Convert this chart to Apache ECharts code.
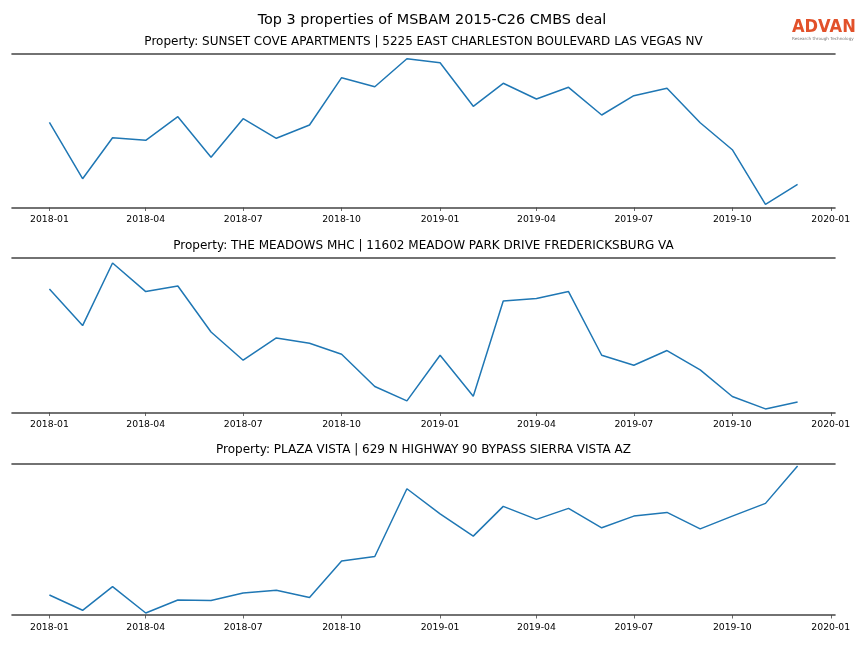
<!DOCTYPE html>
<html>
<head>
<meta charset="utf-8">
<script src="https://cdn.jsdelivr.net/npm/echarts@6/dist/echarts.min.js"></script>
<style>html,body{margin:0;padding:0;background:#fff}#c{width:864px;height:648px}</style>
</head>
<body>
<div id="c"></div>
<script>
// ---- data ----
var months = ['2018-01','2018-02','2018-03','2018-04','2018-05','2018-06','2018-07','2018-08','2018-09','2018-10','2018-11','2018-12',
              '2019-01','2019-02','2019-03','2019-04','2019-05','2019-06','2019-07','2019-08','2019-09','2019-10','2019-11','2019-12'];
var tickLabels = ['2018-01','2018-04','2018-07','2018-10','2019-01','2019-04','2019-07','2019-10','2020-01'];
var mainTitle = 'Top 3 properties of MSBAM 2015-C26 CMBS deal';
var titles = [
  'Property: SUNSET COVE APARTMENTS | 5225 EAST CHARLESTON BOULEVARD LAS VEGAS NV',
  'Property: THE MEADOWS MHC | 11602 MEADOW PARK DRIVE FREDERICKSBURG VA',
  'Property: PLAZA VISTA | 629 N HIGHWAY 90 BYPASS SIERRA VISTA AZ'
];
var sunsetCove = [85.2,28.8,69.8,67.2,90.8,50.2,88.8,69.2,82.5,129.8,120.8,148.8,
                  144.8,101.2,124.2,108.5,120.2,92.5,111.8,119.2,84.8,57.8,3.2,23.2];
var meadows    = [123.6,87,149.6,121,126.6,80.6,52.3,74.6,69.3,58.3,26,11.6,
                  57.3,16.3,111.6,114,121,57.3,47.3,62,42.6,16,3.6,10.6];
var plazaVista = [20,4.7,28.4,2,15,14.4,22,24.7,17.4,54,58.4,126,
                  101,78.7,108.4,95.4,106.4,87,98.7,102.4,86,98.7,111.4,148.7];
var seriesList = [sunsetCove, meadows, plazaVista];

// ---- helpers ----
function ts(s){var p=s.split('-');return Date.UTC(+p[0],+p[1]-1,1);}
function fmt(v){var d=new Date(v);var m=d.getUTCMonth()+1;return d.getUTCFullYear()+'-'+(m<10?'0':'')+m;}
var tickVals = tickLabels.map(ts);
var t0 = ts(months[0]), t1 = ts(months[months.length-1]);
var xMin = t0 - (t1-t0)*0.05, xMax = t1 + (t1-t0)*0.05;

var FONT = '"DejaVu Sans", sans-serif';
var grids = [
  {left:12, right:29, top:54, height:153.5},
  {left:12, right:29, top:258, height:154.5},
  {left:12, right:29, top:464, height:151}
];
var yMaxes = [153.5, 154.6, 150.7];

var xAxes = [], yAxes = [], series = [];
grids.forEach(function(g, i){
  xAxes.push({
    type:'value', gridIndex:i, min:xMin, max:xMax, position:'bottom', scale:true,
    axisLine:{show:true, onZero:false, lineStyle:{color:'#444', width:1.6}},
    axisTick:{show:true, length:3.5, customValues:tickVals, lineStyle:{color:'#444', width:0.8}},
    axisLabel:{show:true, customValues:tickVals, formatter:function(v){return fmt(v);},
               fontFamily:FONT, fontSize:9.3, color:'#000', margin:8, hideOverlap:false,
               showMinLabel:true, showMaxLabel:true},
    splitLine:{show:false}
  });
  xAxes.push({
    type:'value', gridIndex:i, min:xMin, max:xMax, position:'top', scale:true,
    axisLine:{show:true, onZero:false, lineStyle:{color:'#444', width:1.6}},
    axisTick:{show:false}, axisLabel:{show:false}, splitLine:{show:false}
  });
  yAxes.push({type:'value', gridIndex:i, min:0, max:yMaxes[i], show:false, splitLine:{show:false}});
  series.push({
    type:'line', xAxisIndex:i*2, yAxisIndex:i, showSymbol:false, symbol:'none',
    lineStyle:{color:'#1f77b4', width:1.5}, itemStyle:{color:'#1f77b4'},
    data: months.map(function(m, k){return [ts(m), seriesList[i][k]];}),
    animation:false
  });
});

var graphics = [
  {type:'text', style:{x:432, y:20, text:mainTitle, font:'14.4px '+FONT, fill:'#000', textAlign:'center', textVerticalAlign:'middle'}},
  {type:'text', style:{x:423.5, y:42, text:titles[0], font:'12px '+FONT, fill:'#000', textAlign:'center', textVerticalAlign:'middle'}},
  {type:'text', style:{x:423.5, y:246, text:titles[1], font:'12px '+FONT, fill:'#000', textAlign:'center', textVerticalAlign:'middle'}},
  {type:'text', style:{x:423.5, y:450, text:titles[2], font:'12px '+FONT, fill:'#000', textAlign:'center', textVerticalAlign:'middle'}},
  {type:'text', x:792, y:27, scaleX:1, scaleY:1.12,
   style:{x:0, y:0, text:'ADVAN', font:'bold 16.3px '+FONT, fill:'#e2512a', textAlign:'left', textVerticalAlign:'middle'}},
  {type:'text', style:{x:792, y:38.5, text:'Research through Technology', font:'4.2px '+FONT, fill:'#777', textAlign:'left', textVerticalAlign:'middle'}}
];

var chart = echarts.init(document.getElementById('c'), null, {renderer:'canvas'});
chart.setOption({
  animation:false,
  backgroundColor:'#fff',
  grid:grids, xAxis:xAxes, yAxis:yAxes, series:series, graphic:graphics
});
</script>
</body>
</html>
